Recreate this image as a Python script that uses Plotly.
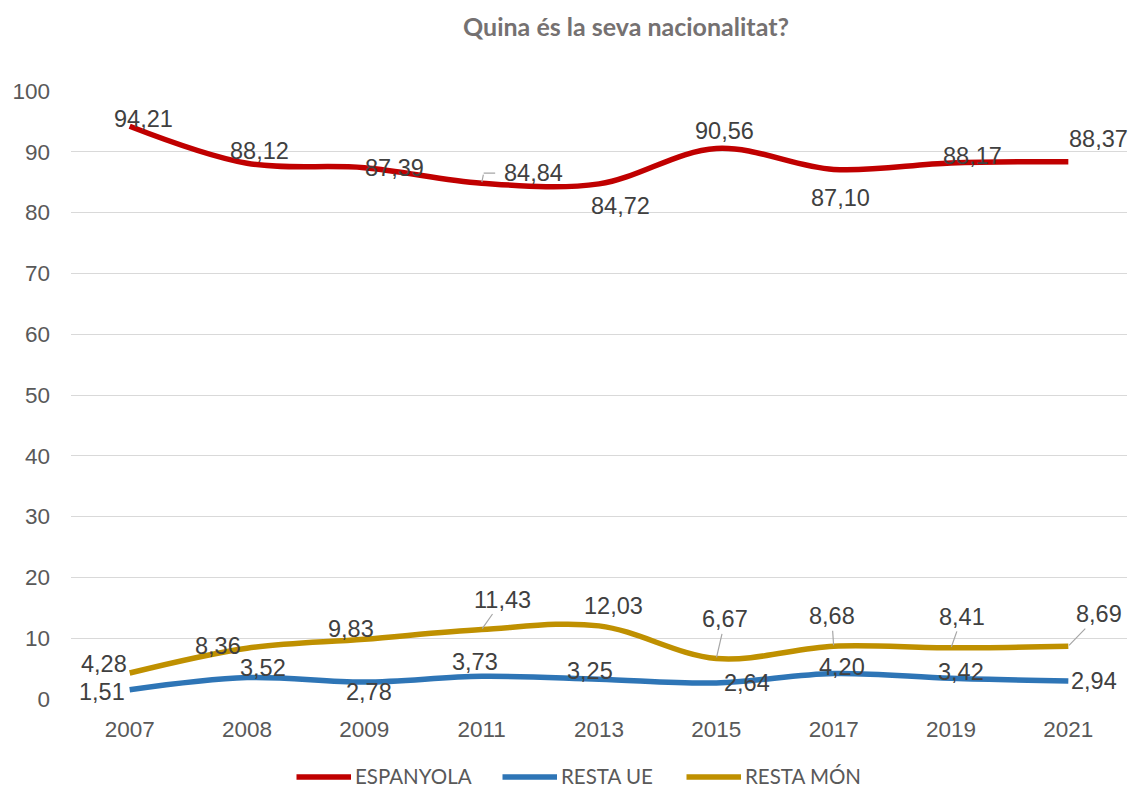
import plotly.graph_objects as go

# Survey years and shares (%) by nationality
years = ["2007", "2008", "2009", "2011", "2013", "2015", "2017", "2019", "2021"]
espanyola = [94.21, 88.12, 87.39, 84.84, 84.72, 90.56, 87.10, 88.17, 88.37]
resta_ue = [1.51, 3.52, 2.78, 3.73, 3.25, 2.64, 4.20, 3.42, 2.94]
resta_mon = [4.28, 8.36, 9.83, 11.43, 12.03, 6.67, 8.68, 8.41, 8.69]

# Label offsets in pixels (dx right, dy down) from each point
off_esp = [(14, -7), (12, -12), (30, 0), (52, -10), (21, 22), (8, -17), (7, 29), (21, -7), (30, -23)]
off_ue = [(-28, 2), (16, -10), (5, 10), (-7, -14), (-9, -8), (31, 0), (8, -6), (10, -6), (26, 0)]
off_mon = [(-26, -9), (-29, -2), (-13, -10), (21, -30), (14, -20), (9, -39), (-2, -30), (11, -31), (31, -32)]
# Points of RESTA MÓN that get a straight leader line
leader_mon = {3, 5, 6, 7, 8}

series = [
    ("ESPANYOLA", espanyola, "#C00000", off_esp),
    ("RESTA UE", resta_ue, "#2E75B6", off_ue),
    ("RESTA MÓN", resta_mon, "#BF9000", off_mon),
]

LABEL_FONT = dict(family="Arial", size=23.5, color="#404040")
TICK_FONT = dict(family="Arial", size=22.5, color="#595959")
LEADER = dict(arrowhead=0, arrowwidth=1.2, arrowcolor="#A6A6A6")

# Plot-area box in pixels, used to place the legend row in paper units
PX_L, PX_R, PX_T, PX_B = 71, 1127, 91, 699


def fmt(v):
    return f"{v:.2f}".replace(".", ",")


def paper_x(px):
    return (px - PX_L) / (PX_R - PX_L)


def paper_y(py):
    return (PX_B - py) / (PX_B - PX_T)


fig = go.Figure()
for name, vals, color, _ in series:
    fig.add_trace(go.Scatter(
        x=years, y=vals, name=name, mode="lines",
        line=dict(color=color, width=5.5, shape="spline", smoothing=1.0),
        hoverinfo="skip", showlegend=False,
    ))

# Data labels
for name, vals, color, offs in series:
    for i, v in enumerate(vals):
        dx, dy = offs[i]
        if name == "RESTA MÓN" and i in leader_mon:
            fig.add_annotation(
                x=i, y=v, text=fmt(v), showarrow=True, ax=dx, ay=dy,
                standoff=1, font=LABEL_FONT, **LEADER,
            )
        else:
            fig.add_annotation(
                x=i, y=v, text=fmt(v), showarrow=False,
                xshift=dx, yshift=-dy, font=LABEL_FONT,
            )

# Elbow leader for the 2011 ESPANYOLA label
fig.add_annotation(x=3, y=espanyola[3], text="", showarrow=True, ax=2, ay=-10, standoff=1, **LEADER)
fig.add_annotation(x=3, y=espanyola[3], text="", showarrow=True, xshift=2, yshift=10,
                   ax=13, ay=0, standoff=0, **LEADER)

# Legend row: coloured line + name
legend_items = [("ESPANYOLA", "#C00000", 295), ("RESTA UE", "#2E75B6", 501), ("RESTA MÓN", "#BF9000", 685)]
LEG_Y = 777
for name, color, x0 in legend_items:
    fig.add_annotation(
        xref="paper", yref="paper", x=paper_x(x0 + 56), y=paper_y(LEG_Y),
        text="", showarrow=True, ax=-56, ay=0, standoff=0,
        arrowhead=0, arrowwidth=5.5, arrowcolor=color,
    )
    fig.add_annotation(
        xref="paper", yref="paper", x=paper_x(x0 + 59), y=paper_y(789),
        text=name, showarrow=False, xanchor="left", yanchor="bottom",
        borderpad=0,
        font=dict(family="Lato, Open Sans, sans-serif", size=20.5, color="#595959"),
    )

fig.update_layout(
    width=1130, height=789,
    margin=dict(l=PX_L, r=1130 - PX_R, t=PX_T, b=789 - PX_B),
    paper_bgcolor="white", plot_bgcolor="white",
    title=dict(
        text="<b>Quina és la seva nacionalitat?</b>",
        font=dict(family="Lato, Open Sans, sans-serif", size=25, color="#757171"),
        x=626 / 1130, xanchor="center", xref="container",
        y=1 - 27 / 789, yanchor="middle", yref="container",
    ),
    xaxis=dict(
        type="category", range=[-0.5, 8.5], showgrid=False, zeroline=False,
        showline=False, ticks="", ticklabelstandoff=14, tickfont=TICK_FONT,
    ),
    yaxis=dict(
        range=[0, 100], dtick=10, showgrid=True, gridcolor="#D9D9D9", gridwidth=1.3,
        zeroline=False, showline=False, ticks="", ticklabelstandoff=20,
        tickfont=TICK_FONT,
    ),
    showlegend=False,
)

fig.write_html("out.html")
